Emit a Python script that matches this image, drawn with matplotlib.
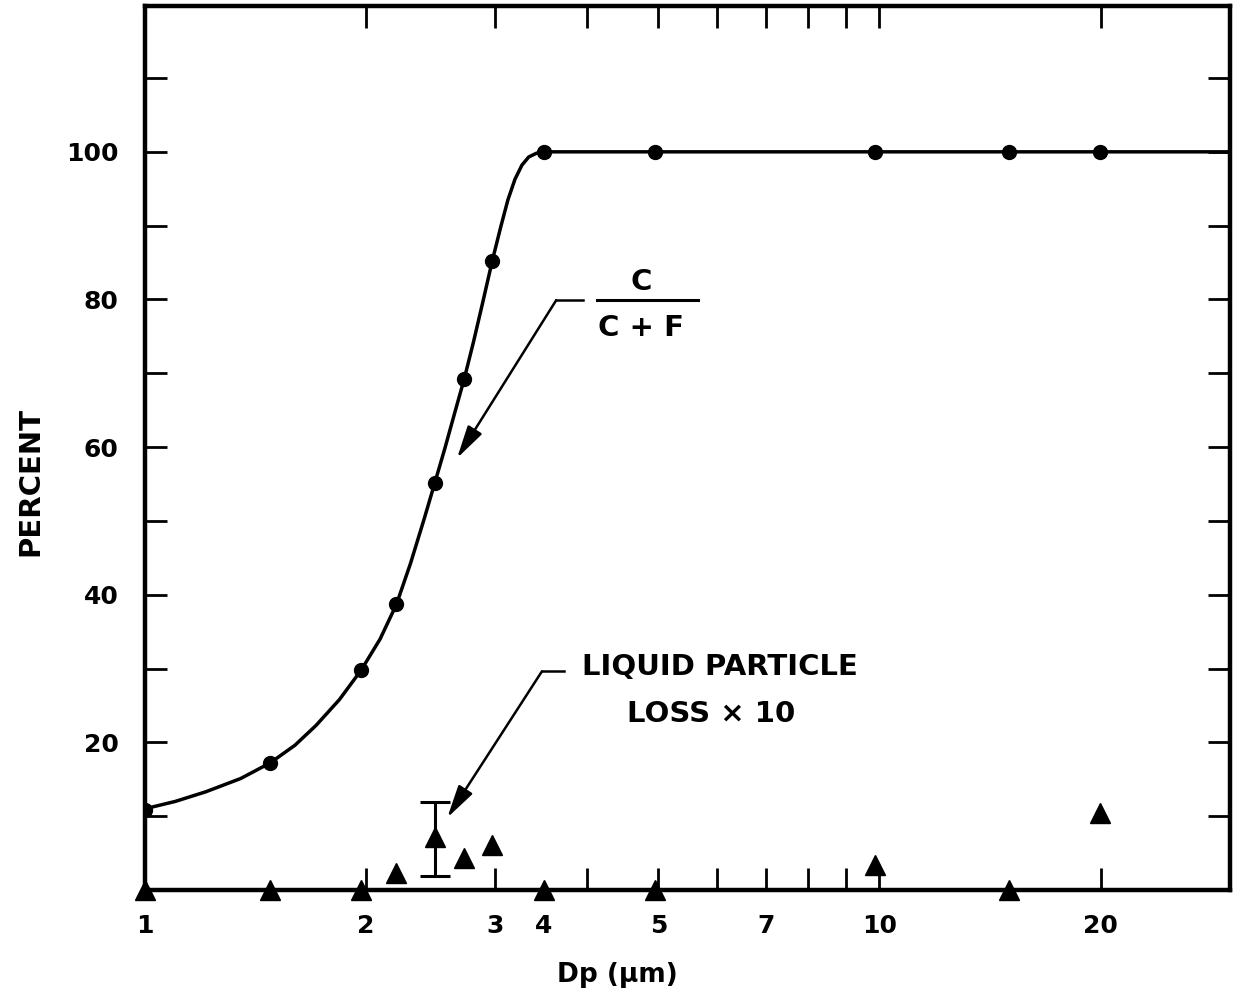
import matplotlib.pyplot as plt
from matplotlib.ticker import FixedLocator, FixedFormatter, NullFormatter

plt.rcParams['font.family'] = ['DejaVu Sans']
plt.rcParams['font.weight'] = 'bold'

# particle size (um) and collection ratio C/(C+F), percent
dp = [1.0, 1.48, 1.97, 2.2, 2.48, 2.72, 2.97, 3.49, 4.95, 9.85, 15.0, 19.95]
ratio_pct = [10.8, 17.2, 29.8, 38.7, 55.1, 69.2, 85.2, 100, 100, 100, 100, 100]

# liquid particle loss x 10, percent
loss_x10 = [0, 0, 0, 2.3, 7.2, 4.3, 6.1, 0, 0, 3.4, 0, 10.4]

# the one error bar on the loss data
err_dp = [2.48]
err_mid = [7.2]
err_low = [1.9]
err_high = [11.9]

# hand drawn smooth curve
curve_x = [1.0, 1.1, 1.21, 1.35, 1.48, 1.6, 1.71, 1.84, 1.97, 2.09, 2.2, 2.3, 2.4,
           2.48, 2.56, 2.64, 2.72, 2.8, 2.88, 2.97, 3.05, 3.12, 3.19, 3.26, 3.33,
           3.41, 3.49, 5.0, 10.0, 20.0, 30.0]
curve_y = [11.0, 12.0, 13.3, 15.1, 17.2, 19.6, 22.3, 25.8, 29.8, 34.0, 38.7, 44.3, 50.3,
           55.1, 59.8, 64.6, 69.2, 74.2, 79.4, 85.2, 89.8, 93.5, 96.3, 98.2, 99.3,
           99.8, 100, 100, 100, 100, 100]

xtick_pos = [1, 2, 3, 3.49, 5, 7, 10, 20]
xtick_lab = ['1', '2', '3', '4', '5', '7', '10', '20']
xmark_pos = [2, 3, 4, 5, 6, 7, 8, 9, 10, 20]
ylab_pos = [20, 40, 60, 80, 100]
ymark_pos = [10, 30, 50, 70, 90, 110]

fig = plt.figure(figsize=(12.41, 10.02), dpi=100)
ax = fig.add_axes([0.1168, 0.1118, 0.8743, 0.8818])

ax.plot(curve_x, curve_y, color='black', lw=2.5)
ax.plot(dp, ratio_pct, 'o', color='black', ms=10)
ax.errorbar(err_dp, err_mid,
            yerr=[[err_mid[0] - err_low[0]], [err_high[0] - err_mid[0]]],
            fmt='none', ecolor='black', elinewidth=2.2, capsize=11, capthick=2.2)
ax.plot(dp, loss_x10, '^', color='black', ms=14, clip_on=False, zorder=5)

ax.set_xscale('log')
ax.set_xlim(1, 30)
ax.set_ylim(0, 119.7)

ax.xaxis.remove_overlapping_locs = False
ax.xaxis.set_major_locator(FixedLocator(xtick_pos))
ax.xaxis.set_major_formatter(FixedFormatter(xtick_lab))
ax.xaxis.set_minor_locator(FixedLocator(xmark_pos))
ax.xaxis.set_minor_formatter(NullFormatter())
ax.tick_params(axis='x', which='major', length=0, pad=17, labelsize=18)
ax.tick_params(axis='x', which='minor', direction='in', length=16, width=2,
               top=True, bottom=True)

ax.yaxis.set_major_locator(FixedLocator(ylab_pos))
ax.yaxis.set_minor_locator(FixedLocator(ymark_pos))
ax.yaxis.set_minor_formatter(NullFormatter())
ax.tick_params(axis='y', which='both', direction='in', length=16, width=2,
               left=True, right=True, pad=19, labelsize=18)

for s in ax.spines.values():
    s.set_linewidth(3.2)

arrow_style = dict(arrowstyle='-|>,head_length=1.0,head_width=0.25',
                   color='black', lw=1.8, shrinkA=0, shrinkB=0, mutation_scale=20)

# C / (C + F) label with leader
ax.text(4.74, 82.4, 'C', ha='center', va='center', fontsize=21)
ax.plot([4.12, 5.66], [79.9, 79.9], color='black', lw=2.2)
ax.text(4.74, 76.2, 'C + F', ha='center', va='center', fontsize=21)
ax.plot([3.95, 3.63], [79.9, 79.9], color='black', lw=1.8)
ax.annotate('', xy=(2.66, 58.5), xytext=(3.63, 79.9), arrowprops=arrow_style)

# liquid particle loss label with leader
ax.text(6.07, 30.2, 'LIQUID PARTICLE', ha='center', va='center', fontsize=21)
ax.text(5.90, 23.8, 'LOSS \u00d7 10', ha='center', va='center', fontsize=21)
ax.plot([3.72, 3.47], [29.6, 29.6], color='black', lw=1.8)
ax.annotate('', xy=(2.58, 9.8), xytext=(3.47, 29.6), arrowprops=arrow_style)

fig.text(30 / 1241, 1 - 482 / 1002, 'PERCENT', rotation=90, ha='center', va='center',
         fontsize=21)
fig.text(617 / 1241, 1 - 975 / 1002, 'Dp (\u03bcm)', ha='center', va='center', fontsize=19)

fig.savefig('out.png', dpi=100)
